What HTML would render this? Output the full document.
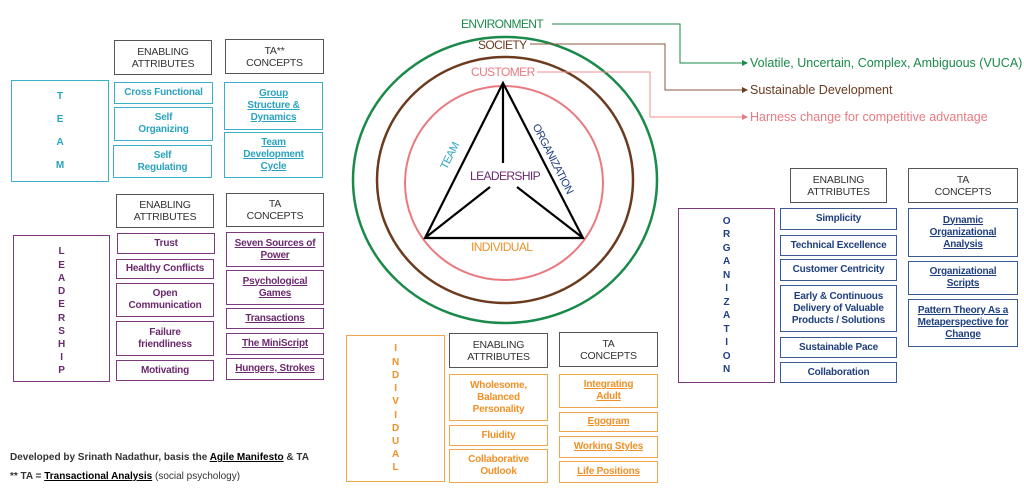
<!DOCTYPE html>
<html><head><meta charset="utf-8"><style>
body{margin:0;width:1024px;height:490px;background:#fff;position:relative;overflow:hidden;font-family:"Liberation Sans",sans-serif}
.b{position:absolute;box-sizing:border-box;border:1.3px solid;display:flex;align-items:center;justify-content:center;text-align:center;font-size:10px;font-weight:bold;line-height:12px;letter-spacing:-0.2px}
.h{border-color:#555;color:#333;font-weight:normal;font-size:10.5px}
.t{border-color:#3ab0c8;color:#2aa3bf}
.l{border-color:#7a3a7d;color:#6b2a6e}
.i{border-color:#f3a54a;color:#ef9127}
.o{border-color:#3a5a92;color:#1f3f7f}
.u{text-decoration:underline}
.v{flex-direction:column;justify-content:space-around}
.lab{position:absolute;font-size:12px;white-space:nowrap}
</style></head><body>
<svg width="1024" height="490" style="position:absolute;left:0;top:0">
<ellipse cx="505" cy="180" rx="152" ry="143" fill="none" stroke="#1a8a4a" stroke-width="2.5"/>
<ellipse cx="505" cy="180" rx="128" ry="123" fill="none" stroke="#6b3a1f" stroke-width="2.5"/>
<ellipse cx="504" cy="183" rx="99" ry="97" fill="none" stroke="#e87a80" stroke-width="2"/>
<g stroke="#000" stroke-width="2.2" fill="none">
<polygon points="503,83 425,238 583,238"/>
<line x1="503" y1="83" x2="503" y2="163"/>
<line x1="490" y1="187" x2="425" y2="238"/>
<line x1="517" y1="187" x2="583" y2="238"/>
</g>
<polyline points="552,24 680,24 680,63 742,63" fill="none" stroke="#1a8a4a" stroke-width="1"/>
<polygon points="742,60 748,63 742,66" fill="#1a8a4a"/>
<polyline points="530,44 665,44 665,90 742,90" fill="none" stroke="#8a5a3f" stroke-width="1"/>
<polygon points="742,87 748,90 742,93" fill="#6b3a1f"/>
<polyline points="537,72 650,72 650,117 742,117" fill="none" stroke="#ee8c90" stroke-width="1"/>
<polygon points="742,114 748,117 742,120" fill="#e87a80"/>
</svg>
<div class="lab" style="left:461px;top:17px;color:#1a8a4a;font-size:12px;letter-spacing:-0.6px">ENVIRONMENT</div>
<div class="lab" style="left:478px;top:38px;color:#6b3a1f;font-size:12px;letter-spacing:-0.6px">SOCIETY</div>
<div class="lab" style="left:471px;top:65px;color:#e87a80;font-size:12px;letter-spacing:-0.6px">CUSTOMER</div>
<div class="lab" style="left:470px;top:169px;color:#6b2a6e;font-size:12px;letter-spacing:-0.6px">LEADERSHIP</div>
<div class="lab" style="left:471px;top:240px;color:#ef9127;font-size:12px;letter-spacing:-0.6px">INDIVIDUAL</div>
<div class="lab" style="left:436px;top:150px;color:#2aa3bf;font-size:11px;letter-spacing:-0.5px;transform:rotate(-63deg)">TEAM</div>
<div class="lab" style="left:514px;top:153px;color:#1f3f7f;font-size:11px;letter-spacing:-0.5px;transform:rotate(63deg)">ORGANIZATION</div>
<div class="lab" style="left:750px;top:56px;color:#1a8a4a;font-size:12.5px">Volatile, Uncertain, Complex, Ambiguous (VUCA)</div>
<div class="lab" style="left:750px;top:83px;color:#6b3a1f;font-size:12.5px">Sustainable Development</div>
<div class="lab" style="left:750px;top:110px;color:#e87a80;font-size:12.5px">Harness change for competitive advantage</div>

<!-- TEAM -->
<div class="b t v" style="left:11px;top:80px;width:98px;height:102px;padding:4px 0"><span>T</span><span>E</span><span>A</span><span>M</span></div>
<div class="b h" style="left:114px;top:40px;width:98px;height:35px">ENABLING<br>ATTRIBUTES</div>
<div class="b h" style="left:225px;top:39px;width:99px;height:35px">TA**<br>CONCEPTS</div>
<div class="b t" style="left:114px;top:82px;width:99px;height:22px">Cross Functional</div>
<div class="b t" style="left:114px;top:107px;width:99px;height:34px">Self<br>Organizing</div>
<div class="b t" style="left:113px;top:145px;width:99px;height:33px">Self<br>Regulating</div>
<div class="b t u" style="left:224px;top:82px;width:99px;height:48px">Group<br>Structure &amp;<br>Dynamics</div>
<div class="b t u" style="left:224px;top:132px;width:99px;height:46px">Team<br>Development<br>Cycle</div>

<!-- LEADERSHIP -->
<div class="b l" style="left:13px;top:235px;width:97px;height:147px;line-height:13.2px;padding-top:6px">L<br>E<br>A<br>D<br>E<br>R<br>S<br>H<br>I<br>P</div>
<div class="b h" style="left:116px;top:194px;width:98px;height:34px">ENABLING<br>ATTRIBUTES</div>
<div class="b h" style="left:226px;top:193px;width:98px;height:34px">TA<br>CONCEPTS</div>
<div class="b l" style="left:117px;top:233px;width:98px;height:21px">Trust</div>
<div class="b l" style="left:116px;top:259px;width:98px;height:20px">Healthy Conflicts</div>
<div class="b l" style="left:116px;top:283px;width:98px;height:34px">Open<br>Communication</div>
<div class="b l" style="left:116px;top:321px;width:98px;height:35px">Failure<br>friendliness</div>
<div class="b l" style="left:116px;top:360px;width:98px;height:21px">Motivating</div>
<div class="b l u" style="left:226px;top:232px;width:98px;height:35px">Seven Sources of<br>Power</div>
<div class="b l u" style="left:226px;top:270px;width:98px;height:35px">Psychological<br>Games</div>
<div class="b l u" style="left:226px;top:308px;width:98px;height:21px">Transactions</div>
<div class="b l u" style="left:226px;top:333px;width:98px;height:22px">The MiniScript</div>
<div class="b l u" style="left:226px;top:358px;width:98px;height:22px">Hungers, Strokes</div>

<!-- INDIVIDUAL -->
<div class="b i" style="left:346px;top:335px;width:99px;height:147px;line-height:13.2px">I<br>N<br>D<br>I<br>V<br>I<br>D<br>U<br>A<br>L</div>
<div class="b h" style="left:449px;top:333px;width:99px;height:35px">ENABLING<br>ATTRIBUTES</div>
<div class="b h" style="left:559px;top:332px;width:99px;height:35px">TA<br>CONCEPTS</div>
<div class="b i" style="left:449px;top:374px;width:99px;height:47px">Wholesome,<br>Balanced<br>Personality</div>
<div class="b i" style="left:449px;top:425px;width:99px;height:21px">Fluidity</div>
<div class="b i" style="left:449px;top:449px;width:99px;height:34px">Collaborative<br>Outlook</div>
<div class="b i u" style="left:559px;top:374px;width:99px;height:34px">Integrating<br>Adult</div>
<div class="b i u" style="left:559px;top:412px;width:99px;height:20px">Egogram</div>
<div class="b i u" style="left:559px;top:436px;width:99px;height:22px">Working Styles</div>
<div class="b i u" style="left:559px;top:461px;width:99px;height:22px">Life Positions</div>

<!-- ORGANIZATION -->
<div class="b o" style="left:678px;top:208px;width:97px;height:175px;border-color:#7a3a7d;line-height:13.5px">O<br>R<br>G<br>A<br>N<br>I<br>Z<br>A<br>T<br>I<br>O<br>N</div>
<div class="b h" style="left:790px;top:168px;width:97px;height:35px">ENABLING<br>ATTRIBUTES</div>
<div class="b h" style="left:908px;top:168px;width:110px;height:35px">TA<br>CONCEPTS</div>
<div class="b o" style="left:780px;top:208px;width:117px;height:22px">Simplicity</div>
<div class="b o" style="left:780px;top:235px;width:117px;height:21px">Technical Excellence</div>
<div class="b o" style="left:780px;top:259px;width:117px;height:22px">Customer Centricity</div>
<div class="b o" style="left:780px;top:285px;width:117px;height:47px">Early &amp; Continuous<br>Delivery of Valuable<br>Products / Solutions</div>
<div class="b o" style="left:780px;top:337px;width:117px;height:21px">Sustainable Pace</div>
<div class="b o" style="left:780px;top:362px;width:117px;height:21px">Collaboration</div>
<div class="b o u" style="left:908px;top:208px;width:110px;height:49px">Dynamic<br>Organizational<br>Analysis</div>
<div class="b o u" style="left:908px;top:261px;width:110px;height:34px">Organizational<br>Scripts</div>
<div class="b o u" style="left:908px;top:299px;width:110px;height:48px">Pattern Theory As a<br>Metaperspective for<br>Change</div>

<div class="lab" style="left:10px;top:452px;font-size:10px;font-weight:bold;color:#333">Developed by Srinath Nadathur, basis the <span class="u" style="color:#000">Agile Manifesto</span> &amp; TA</div>
<div class="lab" style="left:10px;top:471px;font-size:10px;font-weight:bold;color:#333">** TA = <span class="u" style="color:#000">Transactional Analysis</span> <span style="font-weight:normal">(social psychology)</span></div>
</body></html>
